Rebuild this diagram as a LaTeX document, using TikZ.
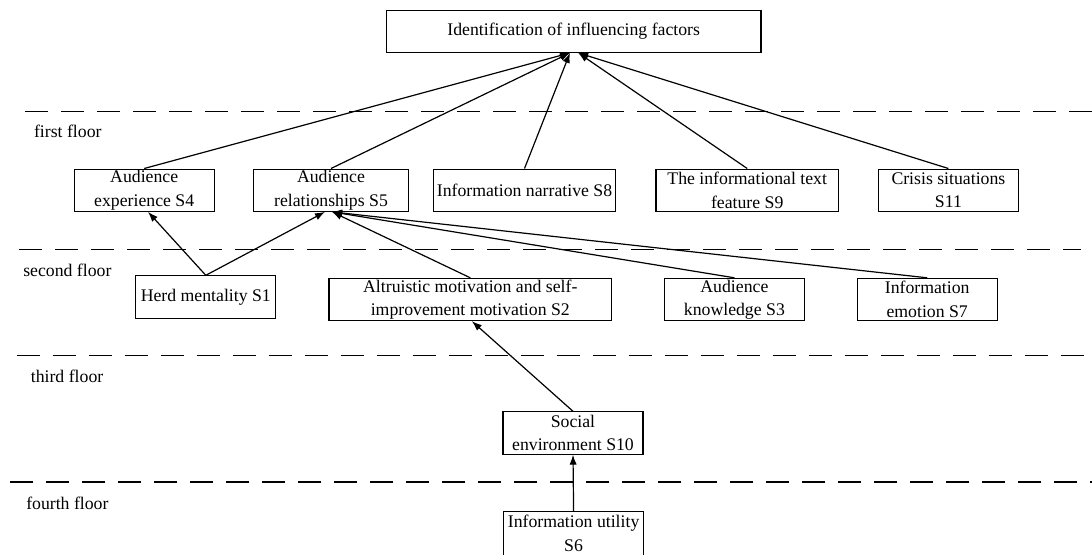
\documentclass[tikz,border=0pt]{standalone}
\usepackage{fontspec}
\setmainfont{Liberation Serif}
\usetikzlibrary{arrows.meta}
\begin{document}
\begin{tikzpicture}[x=0.75pt,y=-0.75pt,
 boxline/.style={line width=0.85pt},
 box/.style={draw, boxline, inner sep=0pt, align=center, minimum height=31.7pt, font=\fontsize{13.3}{17.5}\selectfont},
 floorlabel/.style={inner sep=0pt, anchor=west, font=\fontsize{13.3}{16}\selectfont},
 sepline/.style={line width=1.3pt, dash pattern=on 17.25pt off 9.75pt},
 arr/.style={line width=0.9pt, -{Latex[length=7.5pt,width=5.5pt]}}]
\fill[white] (0,0) rectangle (1092,554);
\clip (0,0) rectangle (1092,554);

% floor separators
\draw[sepline] (25,111.5) -- (1092,111.5);
\draw[sepline] (19,249.5) -- (1081,249.5);
\draw[sepline] (16.7,355.5) -- (1092,355.5);
\draw[sepline] (10.4,481.7) -- (1092,481.7);

% floor labels
\node[floorlabel] (f1) at (33.8,131.7) {first floor};
\node[floorlabel] (f2) at (23,270.7) {second floor};
\node[floorlabel] (f3) at (30.6,376.7) {third floor};
\node[floorlabel] (f4) at (26,503.3) {fourth floor};

% nodes
\node[box, minimum width=280.9pt] (top) at (573.7,31.2) {Identification of influencing factors};

\node[box, minimum width=105pt] (S4) at (144.2,190.2) {Audience\\experience S4};
\node[box, minimum width=115.7pt] (S5) at (331,190.2) {Audience\\relationships S5};
\node[box, minimum width=136.5pt] (S8) at (524.5,190.2) {Information narrative S8};
\node[box, minimum width=136.9pt] (S9) at (747.2,190.2) {The informational text\\feature S9};
\node[box, minimum width=105.2pt] (S11) at (948.4,190.2) {Crisis situations\\S11};

\node[box, minimum width=105pt] (S1) at (205.8,297) {Herd mentality S1};
\node[box, minimum width=211.9pt] (S2) at (470.3,299.5) {Altruistic motivation and self-\\improvement motivation S2};
\node[box, minimum width=105pt] (S3) at (734.4,299.5) {Audience\\knowledge S3};
\node[box, minimum width=105.2pt] (S7) at (927.2,299.5) {Information\\emotion S7};

\node[box, minimum width=105pt] (S10) at (573,433) {Social\\environment S10};
% bottom box: its lower edge runs past the picture's edge
\node[box, draw=none, minimum width=104.5pt] (S6) at (573.6,533.3) {Information utility\\S6};
\draw[boxline] ([yshift=-4pt]S6.south west) -- (S6.north west) -- (S6.north east) -- ([yshift=-4pt]S6.south east);

% connectors to top
\draw[arr] (S4.north) -- ([xshift=-2.8pt]top.south);
\draw[arr] (S5.north) -- ([xshift=-2.8pt]top.south);
\draw[arr] (S8.north) -- ([xshift=-2.8pt]top.south);
\draw[arr] (S9.north) -- ([xshift=3.4pt]top.south);
\draw[arr] (S11.north) -- ([xshift=3.4pt]top.south);

% connectors to S5 / S4
\draw[arr] (S1.north) -- ([xshift=2.9pt]S4.south);
\draw[arr] (S1.north) -- ([xshift=-4.5pt]S5.south);
\draw[arr] (S2.north) -- ([xshift=0.8pt]S5.south);
\draw[arr] (S3.north) -- ([xshift=0.8pt]S5.south);
\draw[arr] (S7.north) -- ([xshift=0.8pt]S5.south);

% lower levels
\draw[arr] (S10.north) -- ([xshift=1.2pt]S2.south);
\draw[arr] (S6.north) -- (S10.south);
\end{tikzpicture}
\end{document}
